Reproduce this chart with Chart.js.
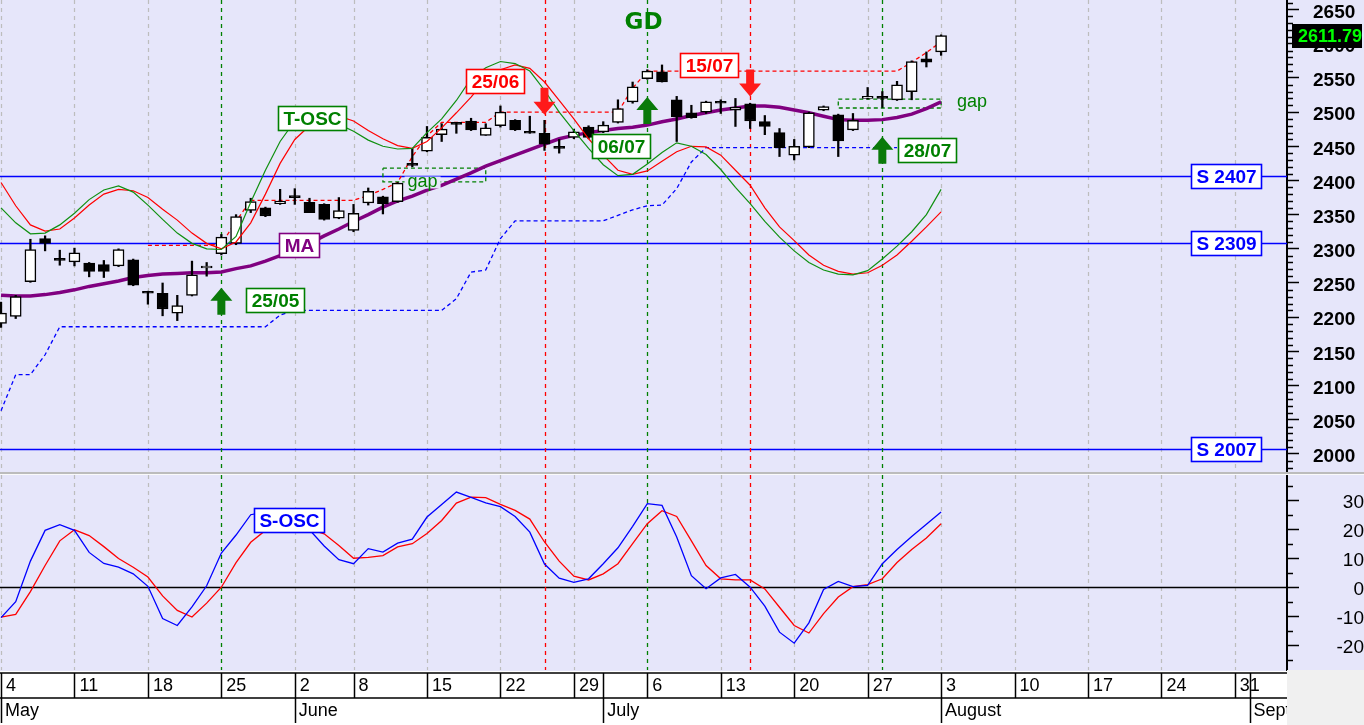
<!DOCTYPE html>
<html lang="en">
<head>
<meta charset="UTF-8">
<title>GD</title>
<script src="https://cdn.jsdelivr.net/npm/chart.js@4"></script>
<style>
  html, body { margin: 0; padding: 0; background: #f0f0f0; }
  #wrap { position: relative; width: 1364px; height: 725px; overflow: hidden; }
  #main { position: absolute; left: 0; top: 0; }
  #sep { position: absolute; left: 0; top: 472px; width: 1364px; height: 3px; background: #bcbcbc; border-bottom: 1px solid #fafafa; box-sizing: border-box; }
  #osc { position: absolute; left: 0; top: 475px; }
</style>
</head>
<body>
<div id="wrap">
  <canvas id="main" width="1364" height="472"></canvas>
  <div id="sep"></div>
  <canvas id="osc" width="1364" height="250"></canvas>
</div>
<script>
// trading days 4 May .. 3 Aug (index 0..64), axis runs on to early September
const opens  = [2191,2201,2252,2315,2284,2281,2279,2277,2275,2284, 2236,2235,2206,2232,2272,2293,2308,2356,2360,2366,
                2378,2368,2365,2345,2327,2367,2376,2369,2423,2443, 2467,2485,2487,2466,2480,2488,2470,2469,2448,2463,
                2478,2471,2485,2515,2549,2559,2518,2499,2500,2515, 2503,2512,2486,2470,2437,2449,2503,2496,2474,2520,
                2523,2518,2530,2578,2588];
const highs  = [2222,2232,2314,2319,2298,2301,2280,2283,2300,2285, 2238,2250,2232,2282,2280,2321,2350,2374,2361,2387,
                2388,2374,2366,2375,2365,2389,2377,2397,2447,2479, 2483,2485,2491,2483,2509,2489,2494,2488,2460,2475,
                2480,2486,2518,2544,2562,2569,2523,2510,2516,2518, 2520,2513,2495,2476,2460,2500,2509,2497,2498,2536,
                2530,2545,2575,2588,2613];
const lows   = [2185,2198,2251,2297,2276,2275,2259,2258,2274,2246, 2219,2202,2195,2231,2260,2291,2306,2353,2347,2365,
                2365,2353,2342,2344,2325,2364,2351,2368,2420,2442, 2457,2469,2473,2466,2478,2473,2469,2444,2440,2461,
                2461,2470,2484,2513,2548,2544,2457,2491,2498,2498, 2479,2476,2467,2435,2430,2448,2502,2435,2473,2519,
                2507,2517,2518,2566,2583];
const closes = [2206,2230,2299,2308,2283,2294,2267,2267,2299,2247, 2235,2212,2217,2262,2272,2317,2347,2369,2348,2370,
                2375,2353,2343,2356,2352,2384,2366,2396,2422,2463, 2475,2482,2474,2477,2500,2474,2469,2453,2447,2471,
                2463,2481,2505,2537,2560,2544,2493,2492,2515,2513, 2507,2487,2479,2448,2450,2499,2508,2458,2488,2521,
                2520,2540,2574,2573,2611.79];
const lastClose = 2611.79;

const maLine    = [2232,2231,2231,2233,2236,2240,2245,2249,2253,2258, 2261,2263,2264,2265,2265,2266,2271,2275,2282,2290,
                   2298,2308,2319,2329,2340,2350,2361,2370,2377,2386, 2393,2402,2411,2421,2429,2437,2445,2453,2461,2466,
                   2470,2473,2476,2478,2481,2486,2490,2495,2499,2503, 2506,2509,2509,2507,2503,2499,2494,2489,2488,2488,
                   2489,2492,2497,2505,2515];
const toscFast  = [2360,2338,2322,2323,2335,2352,2372,2386,2392,2383, 2364,2343,2323,2308,2300,2299,2318,2368,2415,2457,
                   2487,2492,2489,2482,2472,2459,2450,2446,2447,2470, 2490,2517,2549,2565,2574,2571,2560,2532,2500,2473,
                   2447,2423,2407,2409,2424,2441,2455,2450,2438,2416, 2390,2366,2340,2317,2297,2280,2269,2263,2262,2268,
                   2285,2304,2325,2350,2387];
const toscSlow  = [2397,2363,2335,2326,2329,2345,2364,2380,2387,2385, 2375,2358,2342,2323,2308,2300,2310,2338,2380,2425,
                   2460,2480,2492,2494,2487,2473,2461,2451,2447,2457, 2477,2499,2522,2548,2562,2569,2564,2544,2517,2490,
                   2461,2437,2415,2409,2414,2428,2442,2450,2449,2437, 2415,2393,2360,2332,2312,2291,2276,2267,2263,2265,
                   2276,2291,2311,2332,2354];
const stopLine  = [2063,2116,2116,2145,2186,2186,2186,2186,2186,2186, 2186,2186,2186,2186,2186,2186,2186,2186,2186,2203,
                   2210,2210,2210,2210,2210,2210,2210,2210,2210,2210, 2210,2227,2266,2269,2315,2341,2341,2341,2341,2341,
                   2341,2341,2349,2357,2363,2364,2388,2427,2448,2448, 2448,2448,2448,2448,2448,2448,2448,2448,2448,2448,
                   2448,2448,null,null,null];
const resistLine = [null,null,null,null,null,null,null,null,null,null, 2305,2305,2305,2305,2305,2307,2340,2371,2371,2371,
                   2371,2371,2371,2371,2371,2378,2387,2397,2435,2465, 2485,2485,2485,2485,2500,2500,2500,2500,2500,2500,
                   2500,2500,2500,2535,2560,2560,2560,2560,2560,2560, 2560,2560,2560,2560,2560,2560,2560,2560,2560,2560,
                   2560,2560,2573,2587,2603];

const soscFast = [-10.5,-5,9,19.6,21.6,19.6,12,8.2,6.9,4.6, 0.3,-10.8,-13.2,-6.8,0.5,11.8,18,25,26,25,
                  23,19.8,14.2,9.5,8.1,13.3,12.1,15.2,16.6,24.2, 28.5,32.8,31,29.1,27.8,24.4,19,8,3.1,1.7,
                  2.9,8.1,13.6,21,28.8,28.2,17.3,4,-0.5,3.2, 4.4,0,-6.5,-15.5,-19.3,-12.3,-0.8,2,0.2,0.6,
                  8.1,13,17.5,21.7,25.9];
const soscSlow = [-10.3,-9.4,-1.5,7.5,16,19.8,17.8,14,9.9,6.9, 3.5,-3,-8,-10.3,-5.5,0,8.5,15.5,19.6,21,
                  21,20,18.4,14.4,10,10.3,10.9,13.9,15,18.5, 23,29,31.1,30.9,28.6,26.5,23.5,15.6,9,3.8,
                  2.5,4.6,8.1,15,21.9,26.4,24.4,16,7.5,2.9, 2.5,2.5,-0.6,-6.9,-13.2,-15.8,-9.1,-3.4,0.2,0.9,
                  2.9,8.5,13,17,21.9];

const supports = [2407, 2309, 2007];
const signalDays = [15, 37, 44, 51, 60];
const signalTypes = ['buy', 'sell', 'buy', 'sell', 'buy'];
const signalLabels = ['25/05', '25/06', '06/07', '15/07', '28/07'];
const gapFrom = [26, 57];
const gapTo = [33, 64];
const gapLow = [2398, 2506];
const gapHigh = [2418, 2519];

const weekTicks = [0, 5, 10, 15, 20, 24, 29, 34, 39, 44, 49, 54, 59, 64, 69, 74, 79, 84];
const weekLabels = ['4', '11', '18', '25', '2', '8', '15', '22', '29', '6', '13', '20', '27', '3', '10', '17', '24', '31'];
const monthTicks = [0, 20, 41, 64, 85];
const monthLabels = ['May', 'June', 'July', 'August', 'September'];

// ---- look and annotation placement ----
const FONT = '"Liberation Sans", Arial, sans-serif';
const COL = { bg: '#e6e6fa', grid: '#bdbdbd', green: '#008000', red: '#ff0000', blue: '#0000ff', purple: '#800080' };
const X_MIN = -0.07, X_MAX = 87.55;

const mainNotes = [
  { text: 'T-OSC', at: [21.2, 2492], color: COL.green },
  { text: 'MA', at: [20.3, 2305], color: COL.purple }
];
const signalBoxAt = [[18.65, 2225], [33.6, 2546], [42.2, 2451], [48.2, 2569], [63.07, 2445]];
const signalArrowTip = [2243, 2496, 2522, 2523, 2464];
const gapTextAt = [[28.7, 2397], [66.1, 2515]];
const oscNoteAt = [19.6, 23.2];

const days = closes.map((_, i) => i);
const xy = arr => arr.map((v, i) => ({ x: i, y: v }));

function dashedV(ctx, x, top, bottom, color, width) {
  ctx.save();
  ctx.strokeStyle = color;
  ctx.lineWidth = width;
  ctx.setLineDash([4, 4]);
  ctx.beginPath();
  ctx.moveTo(Math.round(x) + 0.5, top);
  ctx.lineTo(Math.round(x) + 0.5, bottom);
  ctx.stroke();
  ctx.restore();
}

function labelBox(ctx, text, cx, cy, color) {
  ctx.save();
  ctx.font = 'bold 19px ' + FONT;
  const w = Math.round(ctx.measureText(text).width + 10), h = 24;
  const l = Math.round(cx - w / 2) + 0.5, t = Math.round(cy - h / 2) + 0.5;
  ctx.fillStyle = '#fff';
  ctx.fillRect(l, t, w, h);
  ctx.strokeStyle = color;
  ctx.lineWidth = 1.6;
  ctx.strokeRect(l, t, w, h);
  ctx.fillStyle = color;
  ctx.textAlign = 'center';
  ctx.textBaseline = 'middle';
  ctx.fillText(text, l + w / 2, t + h / 2 + 1);
  ctx.restore();
}

function arrow(ctx, x, tip, up, color) {
  const s = up ? 1 : -1;
  ctx.save();
  ctx.fillStyle = color;
  ctx.beginPath();
  ctx.moveTo(x, tip);
  ctx.lineTo(x + 11, tip + s * 13);
  ctx.lineTo(x + 4, tip + s * 13);
  ctx.lineTo(x + 4, tip + s * 27);
  ctx.lineTo(x - 4, tip + s * 27);
  ctx.lineTo(x - 4, tip + s * 13);
  ctx.lineTo(x - 11, tip + s * 13);
  ctx.closePath();
  ctx.fill();
  ctx.restore();
}

function minorTicks(ctx, scale, values, len) {
  ctx.save();
  ctx.strokeStyle = '#000';
  ctx.lineWidth = 1.5;
  values.forEach(v => {
    const py = Math.round(scale.getPixelForValue(v)) + 0.5;
    ctx.beginPath();
    ctx.moveTo(scale.left, py);
    ctx.lineTo(scale.left + len, py);
    ctx.stroke();
  });
  ctx.restore();
}

const decor = {
  id: 'decor',
  beforeDraw(chart) {
    const { ctx, width, height } = chart;
    ctx.save();
    ctx.fillStyle = COL.bg;
    ctx.fillRect(0, 0, width, height);
    ctx.restore();
  },
  beforeDatasetsDraw(chart, args, o) {
    const { ctx, chartArea: a, scales: { x, y } } = chart;
    weekTicks.forEach(t => {
      if (!signalDays.includes(t)) dashedV(ctx, x.getPixelForValue(t), a.top, a.bottom, COL.grid, 1.2);
    });
    ctx.save();
    if (o.panel === 'main') {
      ctx.strokeStyle = COL.blue;
      ctx.lineWidth = 1.4;
      supports.forEach(v => {
        const py = Math.round(y.getPixelForValue(v)) + 0.5;
        ctx.beginPath(); ctx.moveTo(a.left, py); ctx.lineTo(a.right, py); ctx.stroke();
      });
    } else {
      ctx.strokeStyle = '#000';
      ctx.lineWidth = 1.4;
      const py = Math.round(y.getPixelForValue(0)) + 0.5;
      ctx.beginPath(); ctx.moveTo(a.left, py); ctx.lineTo(a.right, py); ctx.stroke();
    }
    ctx.restore();
    signalDays.forEach((d, k) => {
      dashedV(ctx, x.getPixelForValue(d), a.top, a.bottom, signalTypes[k] === 'buy' ? COL.green : COL.red, 1.3);
    });
  },
  afterDatasetsDraw(chart, args, o) {
    const { ctx, chartArea: a, scales: { x, y } } = chart;
    if (o.panel === 'main') {
      mainNotes.forEach(n => labelBox(ctx, n.text, x.getPixelForValue(n.at[0]), y.getPixelForValue(n.at[1]), n.color));
      signalDays.forEach((d, k) => {
        const buy = signalTypes[k] === 'buy';
        const c = buy ? COL.green : COL.red;
        arrow(ctx, x.getPixelForValue(d), y.getPixelForValue(signalArrowTip[k]), buy, buy ? '#0a7a0a' : '#ff1a1a');
        labelBox(ctx, signalLabels[k], x.getPixelForValue(signalBoxAt[k][0]), y.getPixelForValue(signalBoxAt[k][1]), c);
      });
      ctx.save();
      ctx.font = '18px ' + FONT;
      ctx.textAlign = 'center';
      ctx.textBaseline = 'middle';
      gapTextAt.forEach(g => {
        const gx = x.getPixelForValue(g[0]), gy = y.getPixelForValue(g[1]);
        const w = ctx.measureText('gap').width + 6;
        ctx.fillStyle = COL.bg;
        ctx.fillRect(gx - w / 2, gy - 6, w, 12);
        ctx.fillStyle = COL.green;
        ctx.fillText('gap', gx, gy);
      });
      ctx.font = 'bold 23px "DejaVu Sans", sans-serif';
      ctx.fillStyle = COL.green;
      ctx.fillText('GD', (a.left + a.right) / 2, a.top + 23);
      ctx.restore();
      supports.forEach(v => labelBox(ctx, 'S ' + v, a.right - 61, y.getPixelForValue(v), COL.blue));
    } else {
      labelBox(ctx, 'S-OSC', x.getPixelForValue(oscNoteAt[0]), y.getPixelForValue(oscNoteAt[1]), COL.blue);
    }
  },
  afterDraw(chart, args, o) {
    const { ctx, chartArea: a, scales: { x, y }, width, height } = chart;
    if (o.panel === 'main') {
      const minors = [];
      for (let v = 1980; v <= 2660; v += 10) if (v % 50) minors.push(v);
      minorTicks(ctx, y, minors, 6);
      const py = y.getPixelForValue(lastClose);
      ctx.save();
      ctx.fillStyle = '#000';
      ctx.fillRect(y.left + 5, Math.round(py) - 12, width - y.left - 7, 24);
      ctx.fillStyle = '#00ff00';
      ctx.font = 'bold 18px ' + FONT;
      ctx.textAlign = 'right';
      ctx.textBaseline = 'middle';
      ctx.fillText(lastClose.toFixed(2), width - 2, Math.round(py) + 1);
      ctx.restore();
    } else {
      minorTicks(ctx, y, [-25, -15, -5, 5, 15, 25, 35], 6);
      const r1 = a.bottom + 3, r2 = r1 + 25, r3 = r2 + 25;
      ctx.save();
      ctx.fillStyle = '#f0f0f0';
      ctx.fillRect(a.right, a.bottom, width - a.right, height - a.bottom);
      ctx.fillStyle = '#ffffff';
      ctx.fillRect(0, a.bottom + 1, a.right, height - a.bottom - 1);
      ctx.beginPath();
      ctx.rect(0, a.bottom, a.right, height - a.bottom);
      ctx.clip();
      ctx.strokeStyle = '#000';
      ctx.lineWidth = 1.5;
      ctx.beginPath();
      ctx.moveTo(0, r1); ctx.lineTo(a.right, r1);
      ctx.moveTo(0, r2); ctx.lineTo(a.right, r2);
      weekTicks.forEach(t => {
        const p = Math.round(x.getPixelForValue(t)) + 0.5;
        ctx.moveTo(p, r1); ctx.lineTo(p, r2);
      });
      monthTicks.forEach(t => {
        const p = Math.round(x.getPixelForValue(t)) + 0.5;
        ctx.moveTo(p, r1); ctx.lineTo(p, r3);
      });
      ctx.stroke();
      ctx.fillStyle = '#000';
      ctx.font = '18px ' + FONT;
      ctx.textAlign = 'left';
      ctx.textBaseline = 'middle';
      weekTicks.forEach((t, k) => ctx.fillText(weekLabels[k], x.getPixelForValue(t) + 5, (r1 + r2) / 2 + 1));
      monthTicks.forEach((t, k) => ctx.fillText(monthLabels[k], x.getPixelForValue(t) + 4, (r2 + r3) / 2 + 1));
      ctx.restore();
    }
  }
};

function yAxis(min, max, majors, bold, align, pad) {
  return {
    position: 'right',
    min: min,
    max: max,
    afterBuildTicks: s => { s.ticks = majors.map(v => ({ value: v })); },
    afterFit: s => { s.width = 77; s.paddingTop = 0; s.paddingBottom = 0; },
    grid: { drawOnChartArea: false, drawTicks: true, tickLength: 12, tickColor: '#000', tickWidth: 1.5 },
    border: { display: true, color: '#000', width: 2 },
    ticks: {
      color: '#000',
      font: { family: FONT, size: 19, weight: bold ? 'bold' : 'normal' },
      padding: pad,
      labelOffset: 3,
      crossAlign: align,
      callback: v => String(v)
    }
  };
}

const xAxis = { type: 'linear', display: false, min: X_MIN, max: X_MAX, offset: false };

const priceMajors = [];
for (let v = 2000; v <= 2650; v += 50) priceMajors.push(v);

const gapSets = gapFrom.map((f, k) => ({
  type: 'line',
  data: [{ x: f, y: gapHigh[k] }, { x: gapTo[k], y: gapHigh[k] }, { x: gapTo[k], y: gapLow[k] },
         { x: f, y: gapLow[k] }, { x: f, y: gapHigh[k] }],
  borderColor: COL.green, borderWidth: 1.3, borderDash: [4, 3], pointRadius: 0, order: 10
}));

new Chart(document.getElementById('main'), {
  type: 'bar',
  data: {
    datasets: [
      ...gapSets,
      { type: 'line', data: xy(stopLine), borderColor: COL.blue, borderWidth: 1.3, borderDash: [4, 3],
        pointRadius: 0, order: 9 },
      { type: 'line', data: xy(resistLine), borderColor: COL.red, borderWidth: 1.3, borderDash: [4, 3],
        pointRadius: 0, order: 8 },
      { type: 'line', data: xy(maLine), borderColor: COL.purple, borderWidth: 3.5, pointRadius: 0, order: 7 },
      { data: days.map(i => ({ x: i, y: [lows[i], highs[i]] })), backgroundColor: '#000',
        barThickness: 1.6, grouped: false, order: 6 },
      { data: days.map(i => ({ x: i, y: [opens[i], closes[i]] })),
        backgroundColor: days.map(i => closes[i] >= opens[i] ? '#ffffff' : '#000000'),
        borderColor: '#000', borderWidth: 1.5, borderSkipped: false, barThickness: 11,
        minBarLength: 2, grouped: false, order: 5 },
      { type: 'line', data: xy(toscSlow), borderColor: COL.red, borderWidth: 1.2, pointRadius: 0, order: 4 },
      { type: 'line', data: xy(toscFast), borderColor: '#109010', borderWidth: 1.2, pointRadius: 0, order: 3 }
    ]
  },
  options: {
    responsive: false,
    animation: false,
    events: [],
    layout: { padding: 0 },
    scales: { x: xAxis, y: yAxis(1973.5, 2664, priceMajors, true, 'near', 14) },
    plugins: { legend: { display: false }, tooltip: { enabled: false }, decor: { panel: 'main' } }
  },
  plugins: [decor]
});

new Chart(document.getElementById('osc'), {
  type: 'line',
  data: {
    datasets: [
      { data: xy(soscSlow), borderColor: COL.red, borderWidth: 1.3, pointRadius: 0, order: 2 },
      { data: xy(soscFast), borderColor: COL.blue, borderWidth: 1.3, pointRadius: 0, order: 1 }
    ]
  },
  options: {
    responsive: false,
    animation: false,
    events: [],
    layout: { padding: { bottom: 55 } },
    scales: { x: xAxis, y: yAxis(-28.55, 38.7, [-20, -10, 0, 10, 20, 30], false, 'far', 29) },
    plugins: { legend: { display: false }, tooltip: { enabled: false }, decor: { panel: 'osc' } }
  },
  plugins: [decor]
});
</script>
</body>
</html>
